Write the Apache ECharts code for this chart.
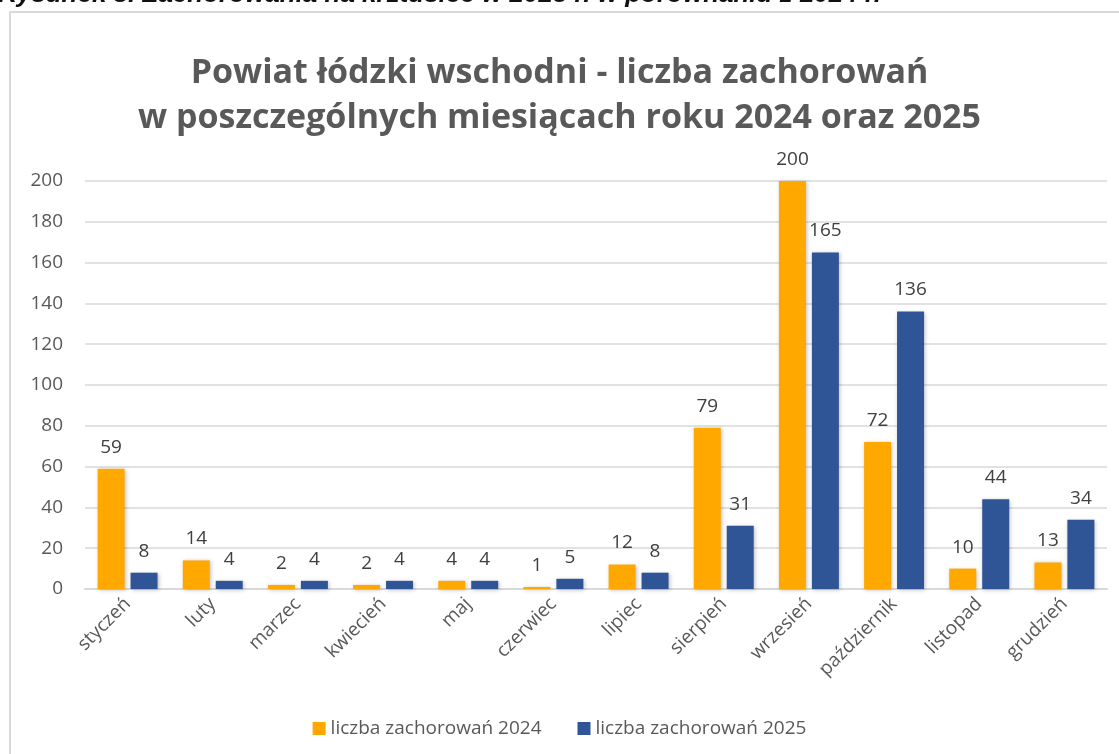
<!DOCTYPE html>
<html>
    <head>
        <meta charset="utf-8">
        <title>Powiat łódzki wschodni</title>
        <script src="https://cdn.jsdelivr.net/npm/echarts@6/dist/echarts.min.js"></script>
        <style>
            html, body { margin: 0; padding: 0; background: #fff; }
            #chart1 { width: 1119px; height: 754px; }
        </style>
    </head>
    <body>
        <div id="chart1"></div>
    </body>
    <script type="text/javascript">
        // dane
        var miesiace = ['styczeń', 'luty', 'marzec', 'kwiecień', 'maj', 'czerwiec',
            'lipiec', 'sierpień', 'wrzesień', 'październik', 'listopad', 'grudzień'];
        var rok2024 = [59, 14, 2, 2, 4, 1, 12, 79, 200, 72, 10, 13];
        var rok2025 = [8, 4, 4, 4, 4, 5, 8, 31, 165, 136, 44, 34];
        var nazwy = ['liczba zachorowań 2024', 'liczba zachorowań 2025'];

        var szary = '#595959';
        var font = 'Open Sans';

        var myChart1 = echarts.init(document.getElementById('chart1'));

        function seria(nazwa, dane, kolor) {
            return {
                name: nazwa,
                type: 'bar',
                data: dane,
                barWidth: 27,
                barGap: '22%',
                itemStyle: {
                    color: kolor,
                    shadowBlur: 4,
                    shadowColor: 'rgba(0,0,0,0.25)',
                    shadowOffsetX: 1,
                    shadowOffsetY: 1
                },
                label: {
                    show: true,
                    position: 'top',
                    distance: 12,
                    color: '#404040',
                    fontFamily: font,
                    fontSize: 19
                }
            };
        }

        myChart1.setOption({
            animation: false,
            title: {
                text: 'Powiat łódzki wschodni - liczba zachorowań\nw poszczególnych miesiącach roku 2024 oraz 2025',
                left: 'center',
                top: 46,
                textStyle: {
                    color: szary,
                    fontFamily: font,
                    fontWeight: 'bold',
                    fontSize: 34,
                    lineHeight: 45
                }
            },
            graphic: [
                {
                    type: 'rect',
                    shape: { x: 10, y: 12, width: 1120, height: 760 },
                    style: { fill: 'none', stroke: '#d9d9d9', lineWidth: 2 }
                },
                {
                    type: 'text',
                    left: -2,
                    top: -18,
                    style: {
                        text: 'Rysunek 8. Zachorowania na krztusiec w 2025 r. w porównaniu z 2024 r.',
                        fill: '#111',
                        font: 'italic bold 26px "Liberation Sans"'
                    }
                }
            ],
            legend: {
                bottom: 11,
                left: 'center',
                itemWidth: 13,
                itemHeight: 13,
                itemGap: 36,
                icon: 'rect',
                textStyle: { color: szary, fontFamily: font, fontSize: 19 },
                data: nazwy
            },
            grid: { left: 85, right: 12, top: 181, bottom: 165 },
            xAxis: {
                type: 'category',
                data: miesiace,
                axisTick: { show: false },
                axisLine: { lineStyle: { color: '#d9d9d9', width: 2 } },
                axisLabel: {
                    rotate: 45,
                    margin: 12,
                    color: szary,
                    fontFamily: font,
                    fontSize: 19
                }
            },
            yAxis: {
                type: 'value',
                min: 0,
                max: 200,
                interval: 20,
                axisLine: { show: false },
                axisTick: { show: false },
                splitLine: { lineStyle: { color: '#d9d9d9', width: 1.5 } },
                axisLabel: {
                    margin: 22,
                    color: szary,
                    fontFamily: font,
                    fontSize: 19
                }
            },
            series: [
                seria(nazwy[0], rok2024, '#ffa800'),
                seria(nazwy[1], rok2025, '#2f5597')
            ]
        });
    </script>
</html>
